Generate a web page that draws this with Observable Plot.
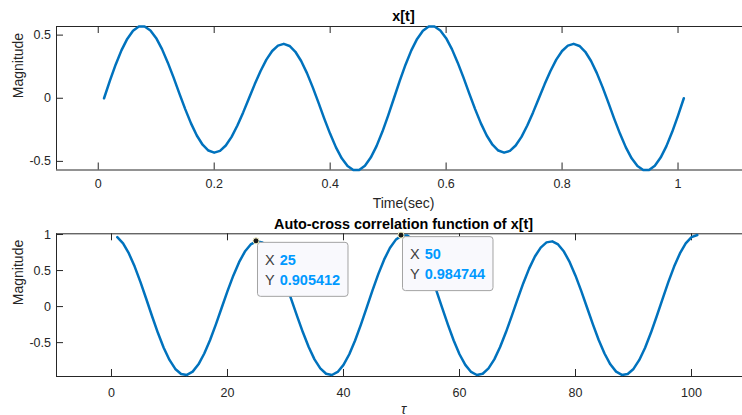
<!DOCTYPE html>
<html>
<head>
<meta charset="utf-8">
<script src="https://cdn.jsdelivr.net/npm/d3@7"></script>
<script src="https://cdn.jsdelivr.net/npm/@observablehq/plot@0.6"></script>
<style>
  html, body { margin: 0; padding: 0; background: #fff; overflow: hidden; }
  #fig { position: relative; width: 742px; height: 415px; overflow: hidden; }
  #fig svg { position: absolute; left: 0; overflow: visible; }
</style>
</head>
<body>
<div id="fig"></div>
<script>
const FONT = "'Liberation Sans', Arial, Helvetica, sans-serif";
const INK = "#262626";
const LINE = "#0072BD";

// x[t], sampled at 100 Hz from t = 0.01 s to t = 1.01 s
const signalTime = d3.range(1, 102).map(i => i / 100);
const signalValues = [
  0, 0.137, 0.266, 0.379, 0.470, 0.534, 0.568, 0.568, 0.537, 0.476,
  0.389, 0.282, 0.163, 0.037, -0.086, -0.199, -0.295, -0.368, -0.414, -0.431,
  -0.417, -0.374, -0.306, -0.216, -0.112, 0, 0.112, 0.216, 0.306, 0.374,
  0.417, 0.431, 0.414, 0.368, 0.295, 0.199, 0.086, -0.037, -0.163, -0.282,
  -0.389, -0.476, -0.537, -0.568, -0.568, -0.534, -0.470, -0.379, -0.266, -0.137,
  0, 0.137, 0.266, 0.379, 0.470, 0.534, 0.568, 0.568, 0.537, 0.476,
  0.389, 0.282, 0.163, 0.037, -0.086, -0.199, -0.295, -0.368, -0.414, -0.431,
  -0.417, -0.374, -0.306, -0.216, -0.112, 0, 0.112, 0.216, 0.306, 0.374,
  0.417, 0.431, 0.414, 0.368, 0.295, 0.199, 0.086, -0.037, -0.163, -0.282,
  -0.389, -0.476, -0.537, -0.568, -0.568, -0.534, -0.470, -0.379, -0.266, -0.137,
  0
];

// normalized correlation of x[t] for lags tau = 1 ... 101
const lagValues = d3.range(1, 102);
const corrValues = [
  0.963, 0.876, 0.737, 0.555, 0.340, 0.105, -0.134, -0.364, -0.570, -0.740,
  -0.865, -0.935, -0.948, -0.902, -0.801, -0.651, -0.463, -0.246, -0.016, 0.214,
  0.429, 0.616, 0.764, 0.862, 0.905412, 0.891, 0.819, 0.695, 0.527, 0.325,
  0.100, -0.132, -0.357, -0.561, -0.732, -0.858, -0.932, -0.949, -0.907, -0.809,
  -0.661, -0.471, -0.251, -0.015, 0.224, 0.450, 0.651, 0.813, 0.926, 0.984744,
  0.985, 0.926, 0.813, 0.651, 0.450, 0.224, -0.015, -0.251, -0.471, -0.661,
  -0.809, -0.907, -0.949, -0.932, -0.858, -0.732, -0.561, -0.357, -0.132, 0.100,
  0.325, 0.527, 0.695, 0.819, 0.891, 0.905, 0.862, 0.764, 0.616, 0.429,
  0.214, -0.016, -0.246, -0.463, -0.651, -0.801, -0.902, -0.948, -0.935, -0.865,
  -0.740, -0.570, -0.364, -0.134, 0.105, 0.340, 0.555, 0.737, 0.876, 0.963,
  0.993
];

// axis ticks and their labels
const timeTicks = [0, 0.2, 0.4, 0.6, 0.8, 1];
const timeTickLabels = ["0", "0.2", "0.4", "0.6", "0.8", "1"];
const signalTicks = [-0.5, 0, 0.5];
const signalTickLabels = ["-0.5", "0", "0.5"];
const lagTicks = [0, 20, 40, 60, 80, 100];
const lagTickLabels = ["0", "20", "40", "60", "80", "100"];
const corrTicks = [-0.5, 0, 0.5, 1];
const corrTickLabels = ["-0.5", "0", "0.5", "1"];

// pinned data tips on the correlation curve
const tipLags = [25, 50];

const WIDTH = 750, ML = 56;

function panel(o) {
  const plotH = o.height - o.marginTop - o.marginBottom;
  const plotW = WIDTH - ML;
  const idx = d3.range(o.xs.length);
  return Plot.plot({
    width: WIDTH, height: o.height,
    marginLeft: ML, marginRight: 0, marginTop: o.marginTop, marginBottom: o.marginBottom,
    style: {fontFamily: FONT, overflow: "visible", maxWidth: "none", background: "transparent"},
    x: {domain: o.xDomain, axis: null},
    y: {domain: o.yDomain, axis: null},
    marks: [
      // box (left, top, bottom) and inward ticks
      Plot.ruleX([o.xDomain[0]], {stroke: INK, strokeWidth: 1}),
      Plot.ruleY([o.yDomain[0], o.yDomain[1]], {stroke: INK, strokeWidth: 1}),
      Plot.tickX(o.xTicks, {x: d => d, stroke: INK, insetTop: plotH - 7}),
      Plot.tickX(o.xTicks, {x: d => d, stroke: INK, insetBottom: plotH - 7}),
      Plot.tickY(o.yTicks, {y: d => d, stroke: INK, insetRight: plotW - 7}),
      Plot.text(o.xTicks, {x: d => d, text: (d, i) => o.xTickLabels[i], frameAnchor: "bottom",
        lineAnchor: "bottom", dy: o.tickDy, fontSize: 12.5, fill: INK}),
      Plot.text(o.yTicks, {y: d => d, text: (d, i) => o.yTickLabels[i], frameAnchor: "left",
        textAnchor: "end", dx: -5.5, fontSize: 12.5, fill: INK}),
      Plot.text([o.title], {frameAnchor: "top", lineAnchor: "bottom", dy: o.titleDy,
        fontWeight: "bold", fontSize: 14.4, fill: "#000"}),
      Plot.text([o.xLabel], {frameAnchor: "bottom", lineAnchor: "bottom", dy: o.xLabelDy,
        fontSize: 14, fill: INK, fontStyle: o.xLabelItalic ? "italic" : "normal"}),
      Plot.text(["Magnitude"], {frameAnchor: "left", rotate: -90, dx: -37.7, fontSize: 14, fill: INK}),
      // the data
      Plot.line(idx, {x: i => o.xs[i], y: i => o.ys[i], stroke: LINE, strokeWidth: 2.5,
        strokeLinejoin: "round", strokeLinecap: "round"})
    ]
  });
}

const topChart = panel({
  xs: signalTime, ys: signalValues,
  xDomain: [-0.072, 1.125], yDomain: [-0.5682, 0.5682],
  xTicks: timeTicks, xTickLabels: timeTickLabels,
  yTicks: signalTicks, yTickLabels: signalTickLabels,
  title: "x[t]", xLabel: "Time(sec)",
  height: 200, marginTop: 26, marginBottom: 30.5,
  tickDy: 17.8, xLabelDy: 37.5, titleDy: -5.5
});

const bottomChart = panel({
  xs: lagValues, ys: corrValues,
  xDomain: [-9.48, 110.17], yDomain: [-0.97, 1.01],
  xTicks: lagTicks, xTickLabels: lagTickLabels,
  yTicks: corrTicks, yTickLabels: corrTickLabels,
  title: "Auto-cross correlation function of x[t]", xLabel: "τ", xLabelItalic: true,
  height: 215, marginTop: 33.3, marginBottom: 39,
  tickDy: 20.5, xLabelDy: 37, titleDy: -5.3
});

const fig = document.getElementById("fig");
topChart.style.top = "0px";
bottomChart.style.top = "200px";
fig.appendChild(topChart);
fig.appendChild(bottomChart);

// data tips: box offset below-right of the picked point
const sx = bottomChart.scale("x"), sy = bottomChart.scale("y");
const svg = d3.select(bottomChart);
tipLags.forEach(lag => {
  const value = corrValues[lag - 1];
  const px = sx.apply(lag), py = sy.apply(value);
  const g = svg.append("g").attr("transform", `translate(${px},${py})`)
    .attr("font-family", FONT).attr("font-size", 14.5).attr("text-anchor", "start");
  g.append("rect")
    .attr("x", 1.5).attr("y", 1.5).attr("width", 90.5).attr("height", 54).attr("rx", 3)
    .attr("fill", "#f9f9fd").attr("stroke", "#a3a3a3").attr("stroke-width", 1);
  const rows = [["X", String(lag)], ["Y", value.toFixed(6)]];
  rows.forEach(([k, v], r) => {
    const y = 24.2 + r * 20;
    g.append("text").attr("x", 8.9).attr("y", y).attr("text-anchor", "start")
      .attr("fill", "#404040").text(k);
    g.append("text").attr("x", 23.7).attr("y", y).attr("text-anchor", "start")
      .attr("fill", "#0099FF").attr("font-weight", "bold").text(v);
  });
  g.append("circle").attr("r", 3).attr("fill", "#1a1a1a").attr("stroke", "#f3efc0").attr("stroke-width", 1);
});
</script>
</body>
</html>
